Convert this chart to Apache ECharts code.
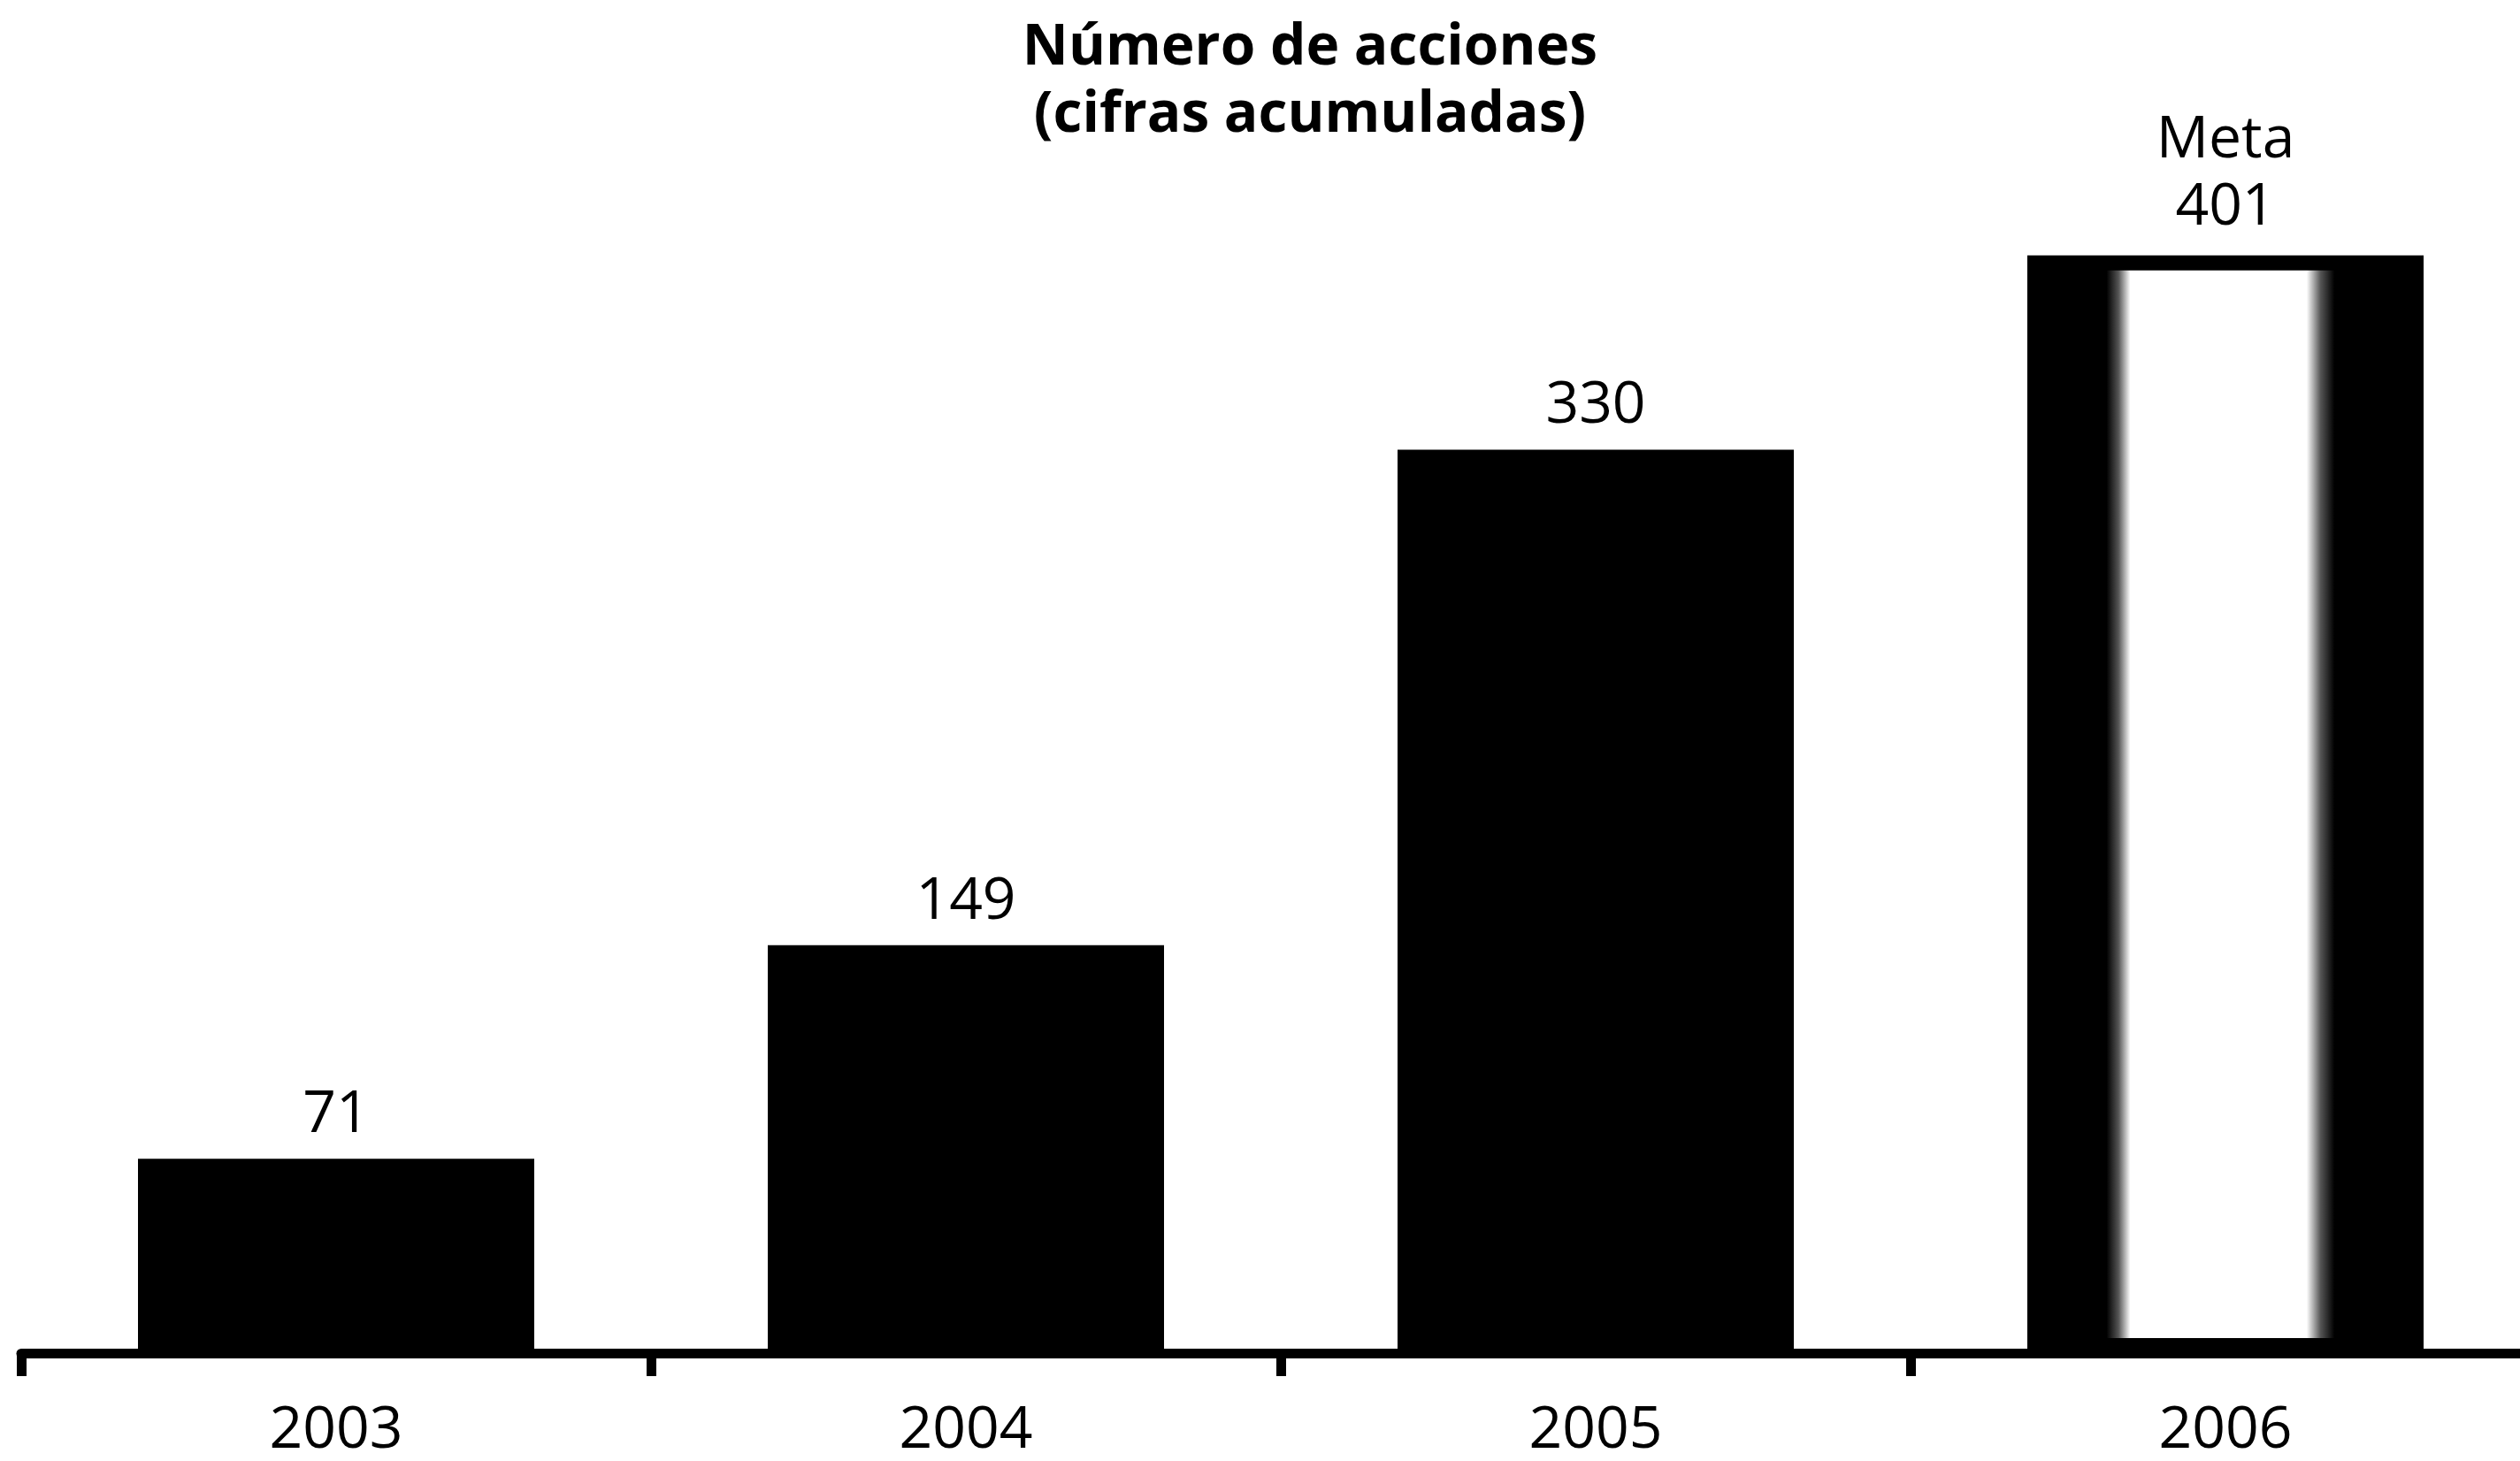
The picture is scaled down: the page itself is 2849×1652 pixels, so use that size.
<!DOCTYPE html>
<html>
<head>
<meta charset="utf-8">
<title>Número de acciones</title>
<script src="https://cdn.jsdelivr.net/npm/echarts@6/dist/echarts.min.js"></script>
<style>
  html, body { margin: 0; padding: 0; background: #fff; }
  #chart { width: 2849px; height: 1652px; }
</style>
</head>
<body>
<div id="chart"></div>
<script>
// Años y número acumulado de acciones
const years = ['2003', '2004', '2005', '2006'];
const acciones = [71, 149, 330, 401];
// El último año es la meta
const metaLabel = 'Meta';
const metaIndex = 3;
const titleLines = ['Número de acciones', '(cifras acumuladas)'];

const FONT = '"Open Sans", "Noto Sans", sans-serif';

// Barra de la meta: negra con franja central blanca
const metaFill = {
  type: 'linear', x: 0, y: 0, x2: 1, y2: 0,
  colorStops: [
    { offset: 0, color: '#000' },
    { offset: 0.20, color: '#000' },
    { offset: 0.23, color: '#555' },
    { offset: 0.26, color: '#fff' },
    { offset: 0.705, color: '#fff' },
    { offset: 0.74, color: '#555' },
    { offset: 0.775, color: '#000' },
    { offset: 1, color: '#000' }
  ]
};

const seriesData = acciones.map((v, i) => {
  if (i !== metaIndex) return v;
  return {
    value: v,
    itemStyle: { color: metaFill, borderColor: '#000', borderWidth: 17 },
    label: { formatter: metaLabel + '\n{c}', lineHeight: 76 }
  };
});

const chart = echarts.init(document.getElementById('chart'), null, { renderer: 'canvas' });
chart.setOption({
  animation: false,
  backgroundColor: '#fff',
  grid: {
    left: 24, width: 2848, top: 230, bottom: 122,
    containLabel: false, outerBoundsMode: 'none'
  },
  xAxis: {
    type: 'category',
    data: years,
    axisLine: { show: true, lineStyle: { color: '#000', width: 11 } },
    axisTick: { show: true, length: 26, lineStyle: { color: '#000', width: 11 } },
    axisLabel: { interval: 0, margin: 55, color: '#000', fontSize: 66, fontFamily: FONT }
  },
  yAxis: {
    type: 'value',
    min: 0,
    max: 420,
    show: false,
    splitLine: { show: false }
  },
  graphic: [{
    type: 'text',
    x: 1481,
    y: 17,
    style: {
      text: titleLines.join('\n'),
      fontFamily: FONT,
      fontWeight: 'bold',
      fontSize: 64,
      lineHeight: 76,
      align: 'center',
      verticalAlign: 'top',
      fill: '#000'
    }
  }],
  series: [{
    type: 'bar',
    data: seriesData,
    barWidth: 448,
    itemStyle: { color: '#000' },
    label: {
      show: true,
      position: 'top',
      distance: 16,
      color: '#000',
      fontSize: 66,
      fontFamily: FONT
    }
  }]
});
</script>
</body>
</html>
